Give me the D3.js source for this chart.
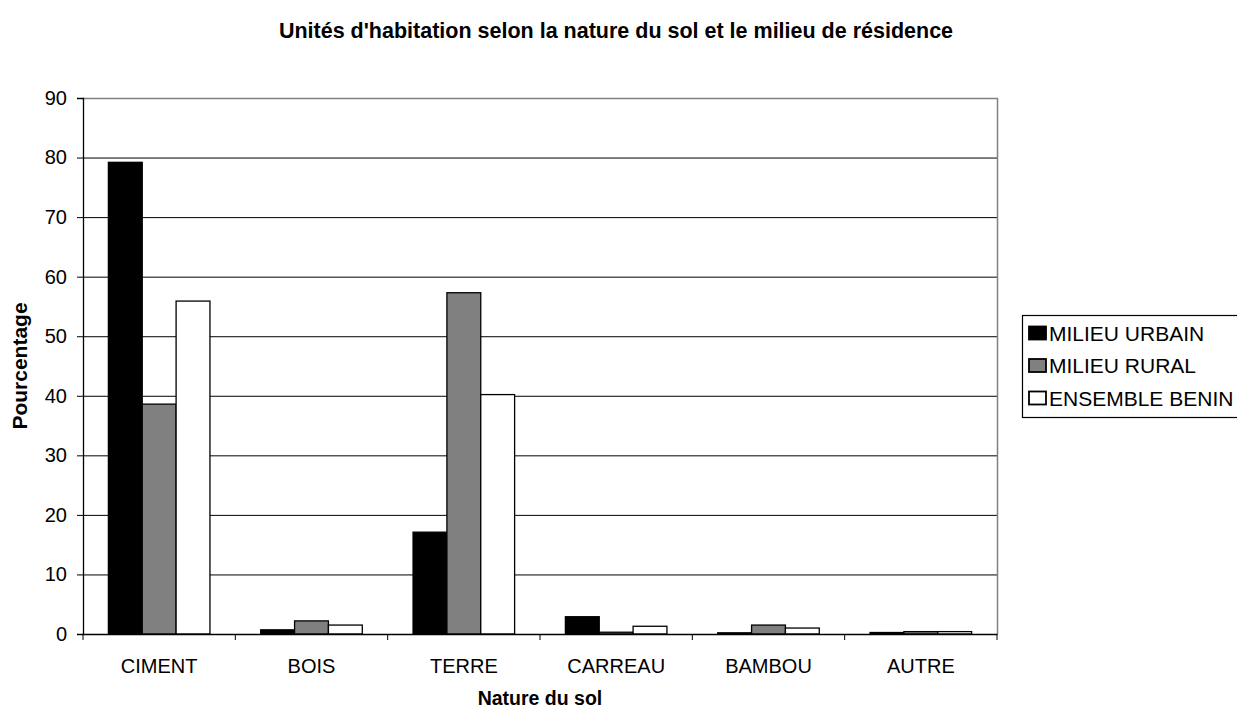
<!DOCTYPE html>
<html>
<head>
<meta charset="utf-8">
<script src="https://cdn.jsdelivr.net/npm/d3@7"></script>
<style>
	body { margin: 0; background: #fff; }
	text { font-family: "Liberation Sans", Arial, sans-serif; }
</style>
</head>
<body>
<svg id="chart" width="1237" height="711"></svg>
<script>
const categories = ["CIMENT", "BOIS", "TERRE", "CARREAU", "BAMBOU", "AUTRE"];
const seriesNames = ["MILIEU URBAIN", "MILIEU RURAL", "ENSEMBLE BENIN"];
const urbain = [79.2, 0.7, 17.1, 2.9, 0.2, 0.25];
const rural = [38.6, 2.2, 57.3, 0.3, 1.5, 0.4];
const ensemble = [55.9, 1.5, 40.2, 1.3, 1.0, 0.4];
const yTicks = [0, 10, 20, 30, 40, 50, 60, 70, 80, 90];

const colors = ["#000000", "#808080", "#ffffff"];
const seriesValues = [urbain, rural, ensemble];
const font = "Liberation Sans, Arial, sans-serif";

const svg = d3.select("#chart");
const plot = { left: 83, right: 997, top: 98, bottom: 634 };

let x0 = d3
	.scaleBand()
	.domain(categories)
	.range([plot.left, plot.right])
	.padding(0);

let x1 = d3
	.scaleBand()
	.domain(seriesNames)
	.range([0, x0.bandwidth()])
	.paddingInner(0)
	.paddingOuter(0.75);

let y = d3
	.scaleLinear()
	.domain([0, 90])
	.range([plot.bottom, plot.top]);

// gridlines
svg.append("g")
	.selectAll("line")
	.data(yTicks.slice(1, -1))
	.join("line")
	.attr("x1", plot.left)
	.attr("x2", plot.right)
	.attr("y1", (d) => y(d) + 0.5)
	.attr("y2", (d) => y(d) + 0.5)
	.attr("stroke", "#000")
	.attr("stroke-width", 1);

// plot frame top/right
svg.append("path")
	.attr("d", `M${plot.left},${plot.top + 0.5}H${plot.right + 0.5}V${plot.bottom}`)
	.attr("fill", "none")
	.attr("stroke", "#808080")
	.attr("stroke-width", 1.5);

// bars
const rows = categories.map((c, i) => ({
	cat: c,
	vals: seriesNames.map((s, j) => ({ s: s, v: seriesValues[j][i], c: colors[j] })),
}));

svg.append("g")
	.selectAll("g")
	.data(rows)
	.join("g")
	.attr("transform", (d) => `translate(${x0(d.cat)},0)`)
	.selectAll("rect")
	.data((d) => d.vals)
	.join("rect")
	.attr("x", (d) => x1(d.s))
	.attr("y", (d) => y(d.v))
	.attr("width", x1.bandwidth())
	.attr("height", (d) => y(0) - y(d.v))
	.attr("fill", (d) => d.c)
	.attr("stroke", "#000")
	.attr("stroke-width", 1.3);

// y axis
let yAxis = d3.axisLeft(y).tickValues(yTicks).tickSize(6).tickPadding(10);
let yG = svg.append("g")
	.attr("transform", `translate(${plot.left},0)`)
	.call(yAxis);
yG.select(".domain").attr("stroke", "#000").attr("stroke-width", 1.3);
yG.selectAll("text").attr("font-size", 20).attr("fill", "#000").attr("font-family", font);

// x axis
let xAxis = d3.axisBottom(x0).tickSize(0).tickPadding(24.5);
let xG = svg.append("g")
	.attr("transform", `translate(0,${plot.bottom})`)
	.call(xAxis);
xG.select(".domain").attr("stroke", "#000").attr("stroke-width", 1.3);
xG.selectAll("text").attr("font-size", 20).attr("fill", "#000").attr("font-family", font);

// tick marks between categories
svg.append("g")
	.selectAll("line")
	.data(categories.map((c) => x0(c)).concat([plot.right]))
	.join("line")
	.attr("x1", (d) => d)
	.attr("x2", (d) => d)
	.attr("y1", plot.bottom)
	.attr("y2", plot.bottom + 6)
	.attr("stroke", "#000");

// titles
svg.append("text")
	.attr("x", 616)
	.attr("y", 38)
	.attr("text-anchor", "middle")
	.attr("font-size", 21.5)
	.attr("font-weight", "bold")
	.text("Unités d'habitation selon la nature du sol et le milieu de résidence");

svg.append("text")
	.attr("x", (plot.left + plot.right) / 2)
	.attr("y", 705)
	.attr("text-anchor", "middle")
	.attr("font-size", 19.5)
	.attr("font-weight", "bold")
	.text("Nature du sol");

svg.append("text")
	.attr("transform", `translate(27,${(plot.top + plot.bottom) / 2}) rotate(-90)`)
	.attr("text-anchor", "middle")
	.attr("font-size", 21)
	.attr("font-weight", "bold")
	.text("Pourcentage");

// legend
let legendG = svg.append("g").attr("transform", "translate(1022,315)");
legendG.append("rect")
	.attr("x", 0.5)
	.attr("y", 0.5)
	.attr("width", 240)
	.attr("height", 102)
	.attr("fill", "#fff")
	.attr("stroke", "#000")
	.attr("stroke-width", 1.2);

let items = legendG.selectAll("g.item")
	.data(seriesNames)
	.join("g")
	.classed("item", true)
	.attr("transform", (d, i) => `translate(7,${18 + i * 32.5})`);

items.append("rect")
	.attr("x", 0)
	.attr("y", -6.5)
	.attr("width", 17)
	.attr("height", 13)
	.attr("fill", (d, i) => colors[i])
	.attr("stroke", "#000")
	.attr("stroke-width", 1.8);

items.append("text")
	.attr("x", 20)
	.attr("y", 7.5)
	.attr("font-size", 21)
	.text((d) => d);
</script>
</body>
</html>
